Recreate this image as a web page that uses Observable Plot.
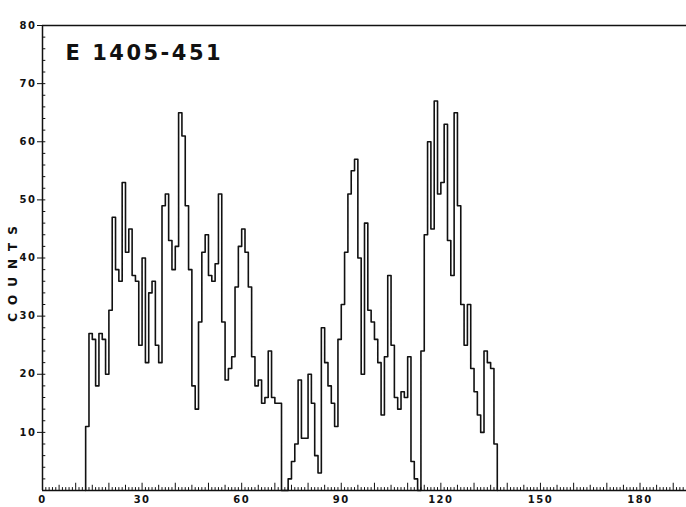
<!DOCTYPE html>
<html>
<head>
<meta charset="utf-8">
<script src="https://cdn.jsdelivr.net/npm/d3@7"></script>
<script src="https://cdn.jsdelivr.net/npm/@observablehq/plot@0.6"></script>
<style>
  html, body { margin: 0; padding: 0; background: #fff; }
  #chart svg { display: block; }
</style>
</head>
<body>
<div id="chart"></div>
<script>
// ---- data (counts per channel) ----
const title = "E 1405-451";
const yLabel = "COUNTS";
const xTickLabels = [0, 30, 60, 90, 120, 150, 180];
const yTickLabels = [10, 20, 30, 40, 50, 60, 70, 80];

// block 1: channels 13..71
const start1 = 13;
const counts1 = [11,27,26,18,27,26,20,31,47,38,36,53,41,45,37,36,25,40,22,34,36,25,22,49,51,43,38,42,65,61,49,38,18,14,29,41,44,37,36,39,51,29,19,21,23,35,42,45,41,35,23,18,19,15,16,24,16,15,15];
// block 2: channels 74..112
const start2 = 74;
const counts2 = [2,5,8,19,9,9,20,15,6,3,28,22,18,15,11,26,32,41,51,55,57,40,20,46,31,29,26,22,13,23,37,25,16,14,17,16,23,5,2];
// block 3: channels 114..136
const start3 = 114;
const counts3 = [24,44,60,45,67,51,53,63,43,37,65,49,32,25,32,21,17,13,10,24,22,21,8];

const blocks = [
  {start: start1, counts: counts1},
  {start: start2, counts: counts2},
  {start: start3, counts: counts3}
];

// histogram outline points (step-after)
const pts = [];
for (const b of blocks) {
  pts.push({x: b.start, y: 0});
  b.counts.forEach((c, i) => pts.push({x: b.start + i, y: c}));
  pts.push({x: b.start + b.counts.length, y: 0});
}

const xMax = 194;
const xMinor = d3.range(0, xMax + 1, 1);
const yMinor = d3.range(2, 80, 2);

const chart = Plot.plot({
  width: 686,
  height: 507,
  marginLeft: 42,
  marginRight: 0,
  marginTop: 25,
  marginBottom: 17,
  x: {domain: [0, xMax], axis: null},
  y: {domain: [0, 80], axis: null},
  style: {
    background: "#fff",
    color: "#111",
    fontFamily: "'DejaVu Sans', sans-serif",
    fontWeight: "bold",
    fontSize: "10px"
  },
  marks: [
    // frame lines
    Plot.ruleY([80], {stroke: "#111", strokeWidth: 1.3}),
    Plot.ruleY([0], {stroke: "#111", strokeWidth: 1.5}),
    Plot.ruleX([0], {stroke: "#111", strokeWidth: 1.5}),
    // x minor ticks (inward)
    Plot.ruleX(xMinor, {x: d => d, y1: 0, y2: d => d % 10 === 0 ? 1.25 : d % 5 === 0 ? 0.9 : 0.5, stroke: "#111", strokeWidth: 1}),
    // y minor ticks (inward)
    Plot.ruleY(yMinor, {y: d => d, x1: 0, x2: 1.0, stroke: "#111", strokeWidth: 1}),
    // axes labels
    Plot.axisX(xTickLabels, {anchor: "bottom", tickSize: 0, tickPadding: 5, label: null, fontSize: 10}),
    Plot.axisY(yTickLabels, {anchor: "left", tickSize: 5, tickPadding: 1, label: null, fontSize: 10}),
    // histogram
    Plot.line(pts, {x: "x", y: "y", curve: "step-after", stroke: "#111", strokeWidth: 1.6}),
    // title
    Plot.text([title], {frameAnchor: "top-left", dx: 23, dy: 20, lineAnchor: "top", textAnchor: "start", fontSize: 21, fontWeight: "bold", fill: "#111"}),
    // y label
    Plot.text([yLabel], {frameAnchor: "left", dx: -29, dy: 12, rotate: -90, textAnchor: "middle", fontSize: 12, fontWeight: "bold", fill: "#111"})
  ]
});

// letter spacing applied directly to the text elements
d3.select(chart).selectAll("text").each(function() {
  const t = this.textContent;
  const s = d3.select(this);
  if (t === title) s.attr("letter-spacing", "2.5px");
  else if (t === yLabel) s.attr("letter-spacing", "8px");
  else if (/^\d+$/.test(t)) s.attr("letter-spacing", "1.5px");
});
document.getElementById("chart").appendChild(chart);
</script>
</body>
</html>
